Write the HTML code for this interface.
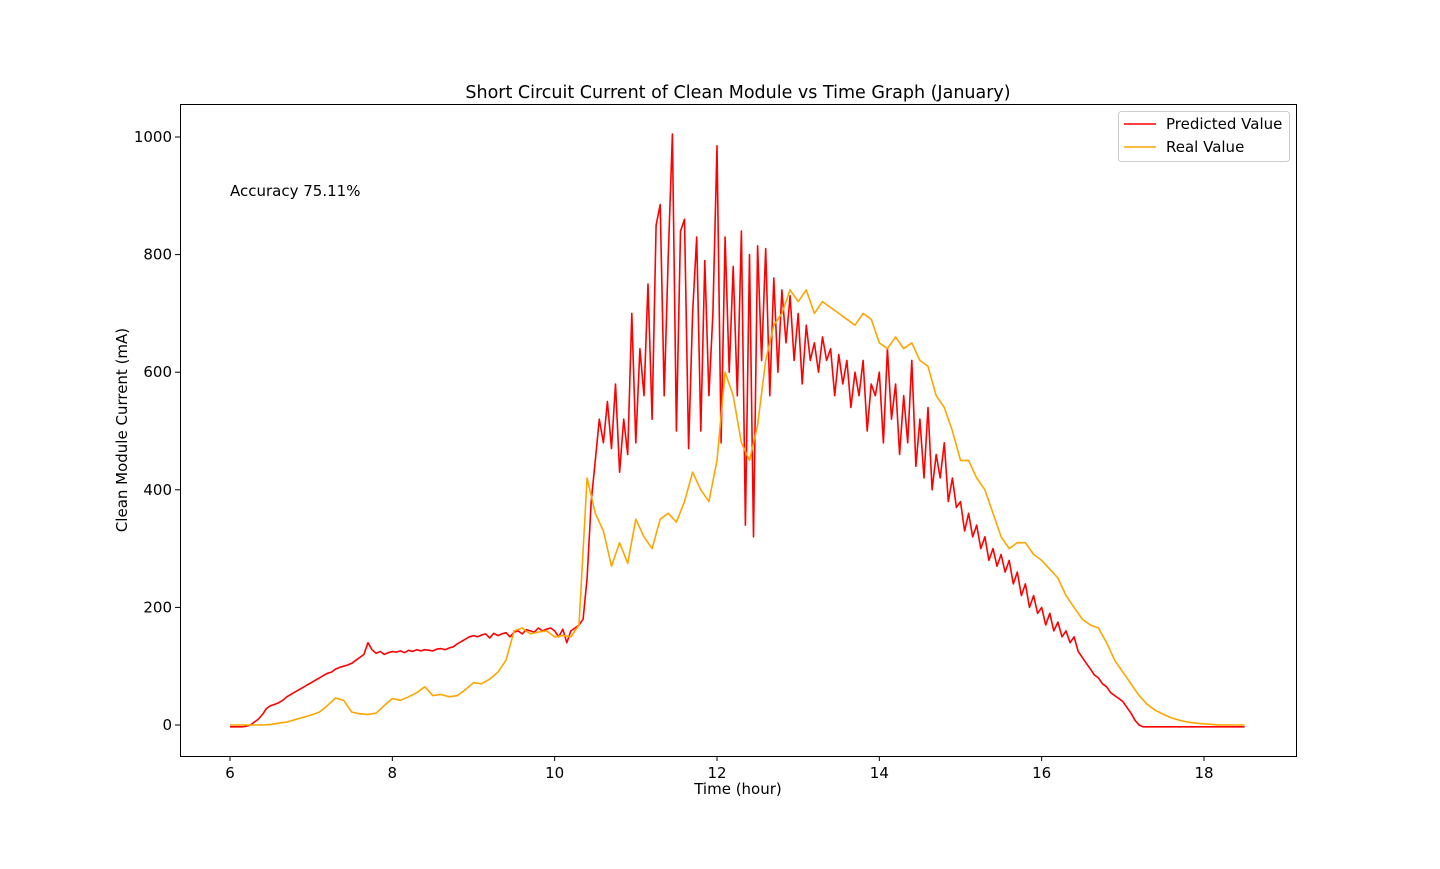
<!DOCTYPE html>
<html><head><meta charset="utf-8"><style>
body{margin:0;background:#fff;font-family:"Liberation Sans","DejaVu Sans",sans-serif;}
svg text{font-family:"DejaVu Sans","Liberation Sans",sans-serif;}
</style></head><body>
<svg id="chart" width="1440" height="864" xmlns="http://www.w3.org/2000/svg">
<rect width="1440" height="864" fill="#fff"/>
<text x="738" y="98" font-size="17.5" text-anchor="middle">Short Circuit Current of Clean Module vs Time Graph (January)</text>
<g id="axes"></g>
<g id="series"></g>
<rect x="180.5" y="104.5" width="1116" height="652" fill="none" stroke="#000" stroke-width="1"/>
<text x="230" y="196" font-size="15">Accuracy 75.11%</text>
<g>
<rect x="1118.5" y="111.5" width="171" height="50" rx="3" fill="#fff" stroke="#ccc"/>
<line x1="1124" y1="124" x2="1156" y2="124" stroke="red" stroke-width="1.5"/>
<text x="1166" y="129" font-size="15">Predicted Value</text>
<line x1="1124" y1="147" x2="1156" y2="147" stroke="orange" stroke-width="1.5"/>
<text x="1166" y="152" font-size="15">Real Value</text>
</g>
<text x="738" y="794" font-size="15" text-anchor="middle">Time (hour)</text>
<text transform="translate(127,430) rotate(-90)" font-size="15" text-anchor="middle">Clean Module Current (mA)</text>
</svg>
<script>
const xTicks=[6,8,10,12,14,16,18];
const yTicks=[0,200,400,600,800,1000];
const predStart=6, predStep=0.05;
const predValues=[-3,-3,-3,-3,-2,0,5,10,18,28,33,35,38,42,48,52,56,60,64,68,
72,76,80,84,88,90,95,98,100,102,105,110,115,120,140,128,122,125,120,123,
125,124,126,123,127,125,128,126,128,127,126,129,130,128,131,133,138,142,146,150,
152,150,153,155,148,156,152,155,157,150,158,160,155,162,160,158,165,160,163,165,
160,150,163,140,160,165,170,180,250,380,450,520,480,550,470,580,430,520,460,700,
480,640,560,750,520,850,885,560,800,1005,500,840,860,470,700,830,500,790,560,700,
985,480,830,600,780,560,840,340,800,320,815,620,810,560,760,600,740,650,730,620,
700,580,680,620,650,600,660,620,640,560,630,580,620,540,600,560,620,500,580,560,
600,480,640,520,580,460,560,480,620,440,520,420,540,400,460,420,480,380,420,370,
380,330,360,320,340,300,320,280,300,270,290,260,280,240,260,220,240,200,220,190,
200,170,190,160,175,150,160,140,150,125,115,105,95,85,80,70,65,55,50,45,
40,30,20,8,0,-3,-3,-3,-3,-3,-3,-3,-3,-3,-3,-3,-3,-3,-3,-3,
-3,-3,-3,-3,-3,-3,-3,-3,-3,-3,-3];
const realStart=6, realStep=0.1;
const realValues=[0,0,0,0,0,1,3,5,9,13,
17,22,33,46,42,22,19,18,20,33,
45,42,48,55,65,50,52,48,50,60,
72,70,78,90,110,160,165,155,158,160,
150,152,150,170,420,360,330,270,310,275,
350,320,300,350,360,345,380,430,400,380,
450,600,560,480,450,510,620,680,700,740,
720,740,700,720,710,700,690,680,700,690,
650,640,660,640,650,620,610,560,540,500,
450,450,420,400,360,320,300,310,310,290,
280,265,250,220,200,180,170,165,140,110,
90,70,50,35,25,18,12,8,5,3,
2,1,0,0,0,0];
const X=t=>230+(t-6)*(1204-230)/12;
const Y=v=>725-v*(725-137)/1000;
const ns="http://www.w3.org/2000/svg";
const axes=document.getElementById('axes');
function mk(tag,attrs,parent){const e=document.createElementNS(ns,tag);for(const k in attrs)e.setAttribute(k,attrs[k]);parent.appendChild(e);return e;}
xTicks.forEach(t=>{
 const l=mk('line',{x1:X(t),x2:X(t),y1:756,y2:761,stroke:'#000'},axes);
 
 
 const tx=mk('text',{x:X(t),y:778,'font-size':15,'text-anchor':'middle'},axes);
 tx.textContent=t;
 
 
});
yTicks.forEach(v=>{
 const l=mk('line',{x1:175,x2:180,y1:Y(v),y2:Y(v),stroke:'#000'},axes);
 
 
 const tx=mk('text',{x:172,y:Y(v)+5,'font-size':15,'text-anchor':'end'},axes);
 tx.textContent=v;
 
 
});
const g=document.getElementById('series');
function path(vals,start,step){return vals.map((v,i)=>(i?'L':'M')+X(start+i*step).toFixed(1)+','+Y(v).toFixed(1)).join(' ');}
const pr=mk('path',{d:path(predValues,predStart,predStep),fill:'none',stroke:'red','stroke-width':1.6,'stroke-linejoin':'round'},g);


const rl=mk('path',{d:path(realValues,realStart,realStep),fill:'none',stroke:'orange','stroke-width':1.6,'stroke-linejoin':'round'},g);


</script>
</body></html>
